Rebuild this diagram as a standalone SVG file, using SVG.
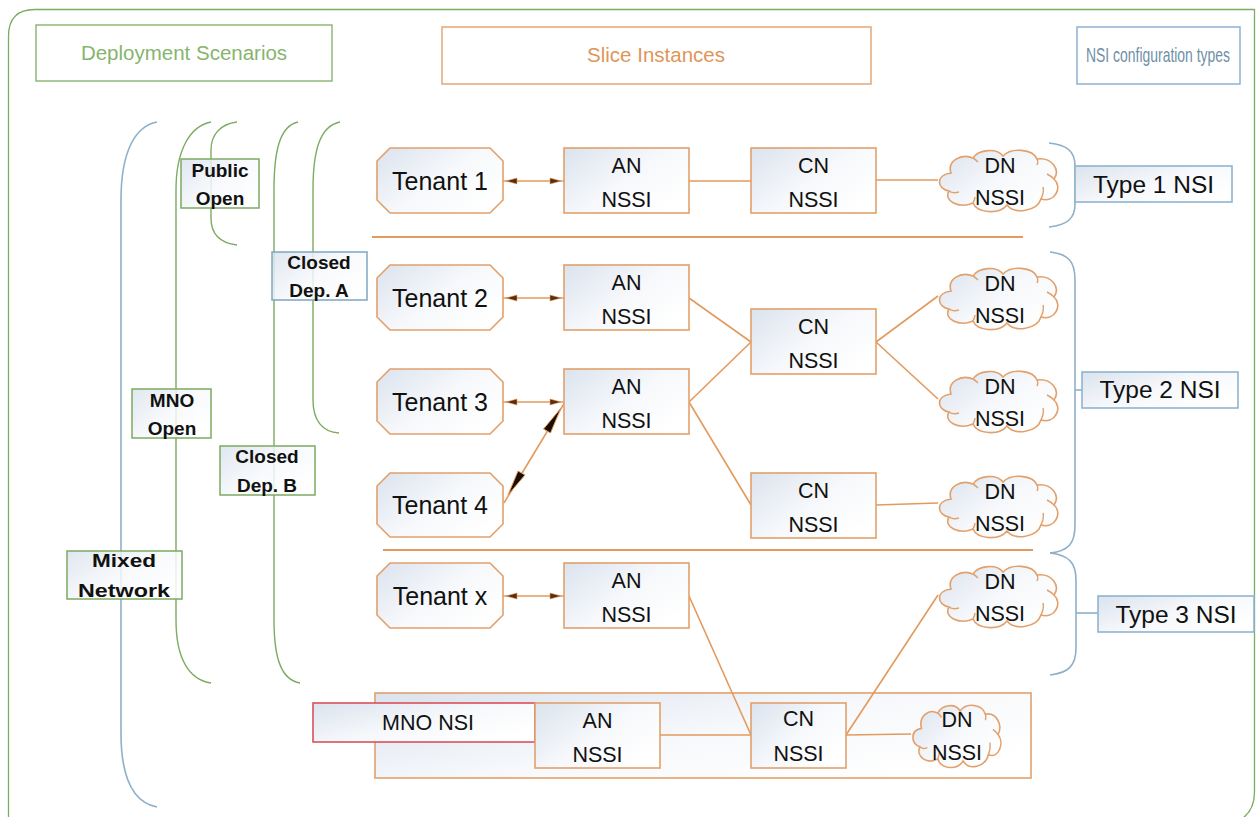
<svg xmlns="http://www.w3.org/2000/svg" xmlns:xlink="http://www.w3.org/1999/xlink" width="1256" height="817" viewBox="0 0 1256 817">
  <style>
    .frame { fill: #ffffff; stroke: #7cab62; stroke-width: 1.3; }
    .hdr { fill: #ffffff; stroke-width: 1.5; }
    .hdr-text { font-family: "Liberation Sans", Arial, sans-serif; font-size: 20.5px; text-anchor: middle; }
    .node { fill: url(#nodeFill); stroke: #e2a06c; stroke-width: 1.6; }
    .node-text { font-family: "Liberation Sans", Arial, sans-serif; font-size: 21.5px; fill: #111; text-anchor: middle; }
    .tenant-text { font-family: "Liberation Sans", Arial, sans-serif; font-size: 25px; fill: #111; text-anchor: middle; }
    .label { fill: url(#nodeFill); fill-opacity: 0.85; stroke-width: 1.5; }
    .label-text { font-family: "Liberation Sans", Arial, sans-serif; font-size: 19px; font-weight: bold; fill: #111; text-anchor: middle; }
    .type-box { fill: url(#nodeFill); stroke: #8fb3cf; stroke-width: 1.6; }
    .type-text { font-family: "Liberation Sans", Arial, sans-serif; font-size: 24.5px; fill: #111; text-anchor: middle; }
    .brace-g { fill: none; stroke: #7cab62; stroke-width: 1.4; }
    .brace-b { fill: none; stroke: #8fb0c8; stroke-width: 1.6; }
    .link { fill: none; stroke: #e39a5d; stroke-width: 1.6; }
    .sep { fill: none; stroke: #e39a5d; stroke-width: 2; }
    .arrow2 { fill: none; stroke: #e39a5d; stroke-width: 1.6; marker-start: url(#tip); marker-end: url(#tip); }
    .bigtip { fill: #1a0d05; stroke: #e39a5d; stroke-width: 1; }
  </style>
  <defs>
    <linearGradient id="nodeFill" x1="0" y1="0" x2="1" y2="0.7">
      <stop offset="0" stop-color="#dbe3ee"/>
      <stop offset="0.55" stop-color="#f6f8fb"/>
      <stop offset="1" stop-color="#ffffff"/>
    </linearGradient>
    <marker id="tip" viewBox="0 0 16 8" refX="15" refY="4" markerWidth="16" markerHeight="8" markerUnits="userSpaceOnUse" orient="auto-start-reverse">
      <path d="M1,1 L12,4 L1,7 Z" fill="#5a2c0c" stroke="#e39a5d" stroke-width="0.6"/>
    </marker>
    <!-- cloud outline drawn in a 125 x 65 box -->
    <g id="cloud">
      <path vector-effect="non-scaling-stroke" fill="url(#nodeFill)" stroke="#e2a06c" stroke-width="1.6"
        d="M14,26 C10,14 24,6 36,11 C42,2 60,1 66,9 C74,0 96,2 100,12 C114,10 124,22 117,32 C126,40 118,56 104,52 C100,64 78,68 70,58 C62,68 40,66 36,56 C22,62 6,54 12,44 C0,42 -2,28 14,26 Z"/>
      <path vector-effect="non-scaling-stroke" fill="none" stroke="#e2a06c" stroke-width="1.4"
        d="M12,44 C15,46 19,46 22,45 M36,56 C37,54 38,52 38,50 M104,52 C106,48 107,44 106,40 M117,32 C115,30 112,28 110,27 M100,12 C101,14 101,16 100,18 M36,11 C38,12 40,14 41,15"/>
    </g>
  </defs>

  <!-- outer frame -->
  <path class="frame" d="M8.5,830 V36 Q8.5,9.5 35,9.5 H1254.5 V792 Q1254.5,814 1236,822"/>

  <!-- column headers -->
  <g id="hdr-deployment">
    <rect class="hdr" x="36" y="25" width="296" height="56" stroke="#8fbb78"/>
    <text class="hdr-text" x="184" y="60" fill="#86b56e">Deployment Scenarios</text>
  </g>
  <g id="hdr-slices">
    <rect class="hdr" x="442" y="27" width="429" height="57" stroke="#e3a676"/>
    <text class="hdr-text" x="656" y="62" fill="#e0955a">Slice Instances</text>
  </g>
  <g id="hdr-types">
    <rect class="hdr" x="1077" y="27" width="163" height="57" stroke="#8fb3cf"/>
    <text class="hdr-text" transform="translate(1158,62) scale(0.68,1)" fill="#6f8fa8">NSI configuration types</text>
  </g>

  <!-- deployment scenario brackets -->
  <g id="scenario-brackets">
    <path class="brace-b" d="M157,122 C136,126 121,150 121,200 L121,733 C121,783 136,803 157,807"/>
    <path class="brace-g" d="M211,122 C190,126 176,150 176,190 L176,620 C176,660 190,680 211,683"/>
    <path class="brace-g" d="M237,122 C220,124 211,135 211,150 L211,218 C211,235 220,243 237,245"/>
    <path class="brace-g" d="M298,122 C280,126 274,150 274,190 L274,620 C274,660 282,680 300,683"/>
    <path class="brace-g" d="M340,122 C320,126 313,150 313,190 L313,400 C313,420 322,432 339,433"/>
  </g>

  <!-- scenario labels -->
  <g id="lbl-public-open">
    <rect class="label" x="181" y="159" width="78" height="49" stroke="#7cab62"/>
    <text class="label-text" x="220" y="177">Public</text>
    <text class="label-text" x="220" y="205">Open</text>
  </g>
  <g id="lbl-closed-a">
    <rect class="label" x="272" y="252" width="95" height="48" stroke="#7fa6c2"/>
    <text class="label-text" x="319" y="269">Closed</text>
    <text class="label-text" x="319" y="297">Dep. A</text>
  </g>
  <g id="lbl-mno-open">
    <rect class="label" x="132" y="389" width="79" height="49" stroke="#7cab62"/>
    <text class="label-text" x="172" y="407">MNO</text>
    <text class="label-text" x="172" y="435">Open</text>
  </g>
  <g id="lbl-closed-b">
    <rect class="label" x="220" y="446" width="95" height="49" stroke="#7cab62"/>
    <text class="label-text" x="267" y="463">Closed</text>
    <text class="label-text" x="267" y="492">Dep. B</text>
  </g>
  <g id="lbl-mixed">
    <rect class="label" x="67" y="551" width="115" height="48" stroke="#7cab62"/>
    <text class="label-text" x="124" y="567" textLength="64" lengthAdjust="spacingAndGlyphs">Mixed</text>
    <text class="label-text" x="124" y="597" textLength="92" lengthAdjust="spacingAndGlyphs">Network</text>
  </g>

  <!-- MNO slice container -->
  <g id="mno-container">
    <rect x="375" y="693" width="656" height="85" fill="url(#nodeFill)" stroke="#e2a06c" stroke-width="1.6"/>
  </g>

  <!-- NSI type braces -->
  <g id="type-braces">
    <path class="brace-b" d="M1049,143 C1068,145 1075,152 1075,166 L1075,204 C1075,218 1068,225 1049,227"/>
    <path class="brace-b" d="M1050,252 C1069,254 1075,262 1075,280 L1075,525 C1075,543 1069,551 1050,553"/>
    <path class="brace-b" d="M1082,390 L1075,390"/>
    <path class="brace-b" d="M1050,553 C1069,555 1076,563 1076,580 L1076,648 C1076,665 1069,673 1050,675"/>
    <path class="brace-b" d="M1076,613 L1098,613"/>
  </g>

  <!-- connectors -->
  <g id="connectors">
    <line class="sep" x1="372" y1="237" x2="1023" y2="237"/>
    <line class="sep" x1="383" y1="550" x2="1033" y2="550"/>

    <line class="arrow2" x1="503" y1="181" x2="564" y2="181"/>
    <line class="arrow2" x1="503" y1="298" x2="564" y2="298"/>
    <line class="arrow2" x1="503" y1="402" x2="564" y2="402"/>
    <line class="arrow2" x1="503" y1="596" x2="564" y2="596"/>

    <line class="link" x1="504" y1="503" x2="565" y2="402"/>
    <polygon class="bigtip" points="561,408 550.5,433 543.5,429"/>
    <polygon class="bigtip" points="508,495 525,475 518,471"/>

    <line class="link" x1="689" y1="181" x2="751" y2="181"/>
    <line class="link" x1="876" y1="180" x2="938" y2="180"/>
    <line class="link" x1="689" y1="298" x2="751" y2="342"/>
    <line class="link" x1="689" y1="402" x2="751" y2="342"/>
    <line class="link" x1="689" y1="402" x2="751" y2="505"/>
    <line class="link" x1="876" y1="342" x2="938" y2="296"/>
    <line class="link" x1="876" y1="342" x2="938" y2="399"/>
    <line class="link" x1="876" y1="505" x2="938" y2="503"/>
    <line class="link" x1="689" y1="596" x2="751" y2="735"/>
    <line class="link" x1="660" y1="735" x2="751" y2="735"/>
    <line class="link" x1="846" y1="735" x2="938" y2="595"/>
    <line class="link" x1="846" y1="735" x2="911" y2="734"/>
  </g>

  <!-- tenants -->
  <g id="tenant-1">
    <polygon class="node" points="390,148 490,148 503,161 503,200 490,213 390,213 377,200 377,161"/>
    <text class="tenant-text" x="440" y="190">Tenant 1</text>
  </g>
  <g id="tenant-2">
    <polygon class="node" points="390,265 490,265 503,278 503,317 490,330 390,330 377,317 377,278"/>
    <text class="tenant-text" x="440" y="307">Tenant 2</text>
  </g>
  <g id="tenant-3">
    <polygon class="node" points="390,369 490,369 503,382 503,421 490,434 390,434 377,421 377,382"/>
    <text class="tenant-text" x="440" y="411">Tenant 3</text>
  </g>
  <g id="tenant-4">
    <polygon class="node" points="390,473 490,473 503,486 503,524 490,537 390,537 377,524 377,486"/>
    <text class="tenant-text" x="440" y="514">Tenant 4</text>
  </g>
  <g id="tenant-x">
    <polygon class="node" points="390,563 490,563 503,576 503,615 490,628 390,628 377,615 377,576"/>
    <text class="tenant-text" x="440" y="605">Tenant x</text>
  </g>

  <!-- access network subnet slices -->
  <g id="an-1">
    <rect class="node" x="564" y="148" width="125" height="65"/>
    <text class="node-text" x="626.5" y="173">AN</text>
    <text class="node-text" x="626.5" y="207">NSSI</text>
  </g>
  <g id="an-2">
    <rect class="node" x="564" y="265" width="125" height="65"/>
    <text class="node-text" x="626.5" y="290">AN</text>
    <text class="node-text" x="626.5" y="324">NSSI</text>
  </g>
  <g id="an-3">
    <rect class="node" x="564" y="369" width="125" height="65"/>
    <text class="node-text" x="626.5" y="394">AN</text>
    <text class="node-text" x="626.5" y="428">NSSI</text>
  </g>
  <g id="an-x">
    <rect class="node" x="564" y="563" width="125" height="65"/>
    <text class="node-text" x="626.5" y="588">AN</text>
    <text class="node-text" x="626.5" y="622">NSSI</text>
  </g>

  <!-- core network subnet slices -->
  <g id="cn-1">
    <rect class="node" x="751" y="148" width="125" height="65"/>
    <text class="node-text" x="813.5" y="173">CN</text>
    <text class="node-text" x="813.5" y="207">NSSI</text>
  </g>
  <g id="cn-2">
    <rect class="node" x="751" y="309" width="125" height="65"/>
    <text class="node-text" x="813.5" y="334">CN</text>
    <text class="node-text" x="813.5" y="368">NSSI</text>
  </g>
  <g id="cn-3">
    <rect class="node" x="751" y="473" width="125" height="65"/>
    <text class="node-text" x="813.5" y="498">CN</text>
    <text class="node-text" x="813.5" y="532">NSSI</text>
  </g>

  <!-- data network subnet slices -->
  <g id="dn-1">
    <use xlink:href="#cloud" transform="translate(937,147)"/>
    <text class="node-text" x="1000" y="173">DN</text>
    <text class="node-text" x="1000" y="205">NSSI</text>
  </g>
  <g id="dn-2">
    <use xlink:href="#cloud" transform="translate(937,265)"/>
    <text class="node-text" x="1000" y="291">DN</text>
    <text class="node-text" x="1000" y="323">NSSI</text>
  </g>
  <g id="dn-3">
    <use xlink:href="#cloud" transform="translate(937,368)"/>
    <text class="node-text" x="1000" y="394">DN</text>
    <text class="node-text" x="1000" y="426">NSSI</text>
  </g>
  <g id="dn-4">
    <use xlink:href="#cloud" transform="translate(937,473)"/>
    <text class="node-text" x="1000" y="499">DN</text>
    <text class="node-text" x="1000" y="531">NSSI</text>
  </g>
  <g id="dn-5">
    <use xlink:href="#cloud" transform="translate(937,563)"/>
    <text class="node-text" x="1000" y="589">DN</text>
    <text class="node-text" x="1000" y="621">NSSI</text>
  </g>

  <!-- MNO slice members -->
  <g id="mno-nsi">
    <rect x="313" y="703" width="222" height="39" fill="url(#nodeFill)" stroke="#d9505a" stroke-width="1.6"/>
    <text class="node-text" x="428" y="730">MNO NSI</text>
  </g>
  <g id="an-mno">
    <rect class="node" x="535" y="703" width="125" height="65"/>
    <text class="node-text" x="597.5" y="728">AN</text>
    <text class="node-text" x="597.5" y="762">NSSI</text>
  </g>
  <g id="cn-mno">
    <rect class="node" x="751" y="703" width="95" height="65"/>
    <text class="node-text" x="798.5" y="726">CN</text>
    <text class="node-text" x="798.5" y="761">NSSI</text>
  </g>
  <g id="dn-mno">
    <use xlink:href="#cloud" transform="translate(911,702) scale(0.744,1.015)"/>
    <text class="node-text" x="957" y="727">DN</text>
    <text class="node-text" x="957" y="760">NSSI</text>
  </g>

  <!-- NSI configuration type labels -->
  <g id="type-1">
    <rect class="type-box" x="1075" y="166" width="157" height="36"/>
    <text class="type-text" x="1153.5" y="193">Type 1 NSI</text>
  </g>
  <g id="type-2">
    <rect class="type-box" x="1082" y="372" width="156" height="36"/>
    <text class="type-text" x="1160" y="398">Type 2 NSI</text>
  </g>
  <g id="type-3">
    <rect class="type-box" x="1098" y="596" width="156" height="36"/>
    <text class="type-text" x="1176" y="623">Type 3 NSI</text>
  </g>
</svg>
